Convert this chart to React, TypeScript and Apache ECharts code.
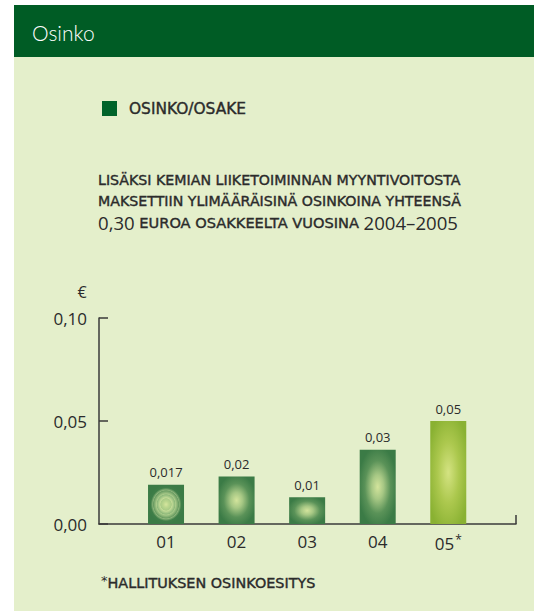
import React, { useEffect, useRef } from "react";
import * as echarts from "echarts";

const categories = ["01", "02", "03", "04", "05"];
const dividendPerShare = [0.019, 0.023, 0.013, 0.036, 0.05];
const valueLabels = ["0,017", "0,02", "0,01", "0,03", "0,05"];
const yMin = 0;
const yMax = 0.1;
const yStep = 0.05;
const titleText = "Osinko";
const legendText = "OSINKO/OSAKE";
const noteLines = [
  "LISÄKSI KEMIAN LIIKETOIMINNAN MYYNTIVOITOSTA",
  "MAKSETTIIN YLIMÄÄRÄISINÄ OSINKOINA YHTEENSÄ",
];
const noteLast = ["0,30", " EUROA OSAKKEELTA VUOSINA ", "2004–2005"];
const footnote = "HALLITUKSEN OSINKOESITYS";

const TEXT = "#2b2b2b";
const CAPS_FONT = "DejaVu Sans";
const NUM_FONT = "Open Sans";
const CAPS_SIZE = 14.2;
const CAPS = `${CAPS_SIZE}px '${CAPS_FONT}'`;
const EMBOLDEN = { stroke: TEXT, lineWidth: 0.4 };

const greenGrad = {
  type: "radial",
  x: 0.5,
  y: 0.5,
  r: 0.55,
  colorStops: [
    { offset: 0, color: "#D3E49C" },
    { offset: 0.3, color: "#A6C784" },
    { offset: 0.65, color: "#5A9258" },
    { offset: 1, color: "#3B7B46" },
  ],
};
const ringGrad = {
  type: "radial",
  x: 0.5,
  y: 0.5,
  r: 0.5,
  colorStops: [
    { offset: 0, color: "#D6E69E" },
    { offset: 0.15, color: "#BCD78E" },
    { offset: 0.3, color: "#A9CB86" },
    { offset: 0.33, color: "#C5DC98" },
    { offset: 0.5, color: "#8DB87A" },
    { offset: 0.53, color: "#AACB8A" },
    { offset: 0.7, color: "#6A9C62" },
    { offset: 0.73, color: "#8DB57A" },
    { offset: 0.85, color: "#3F7E48" },
    { offset: 1, color: "#3B7B46" },
  ],
};
const limeGrad = {
  type: "radial",
  x: 0.5,
  y: 0.5,
  r: 0.6,
  colorStops: [
    { offset: 0, color: "#D4E382" },
    { offset: 0.5, color: "#ACC84E" },
    { offset: 1, color: "#89B132" },
  ],
};
const barFills = [ringGrad, greenGrad, greenGrad, greenGrad, limeGrad];

export default function App() {
  const ref = useRef<HTMLDivElement>(null);
  useEffect(() => {
    if (!ref.current) return;
    const chart = echarts.init(ref.current, undefined, { renderer: "svg" });
    const xMin = -0.95;
    const xMax = 4.96;
    chart.setOption({
      animation: false,
      backgroundColor: "#ffffff",
      grid: { left: 99, top: 318, right: 18, bottom: 87, containLabel: false },
      xAxis: {
        type: "value",
        min: xMin,
        max: xMax,
        splitLine: { show: false },
        axisLine: { show: true, onZero: false, lineStyle: { color: "#3a3a3a", width: 1.5 } },
        axisTick: {
          show: true,
          inside: true,
          length: 9,
          customValues: [xMax],
          lineStyle: { color: "#3a3a3a", width: 1.5 },
        },
        axisLabel: {
          customValues: [0, 1, 2, 3, 4],
          margin: 9,
          color: TEXT,
          fontFamily: NUM_FONT,
          fontSize: 17,
          formatter: (v: number) => {
            const i = Math.round(v);
            return i === 4 ? categories[i] + "{sup|*}" : categories[i];
          },
          rich: {
            sup: { fontSize: 12, color: TEXT, fontFamily: NUM_FONT, padding: [0, 0, 9, 1] },
          },
        },
      },
      yAxis: {
        type: "value",
        min: yMin,
        max: yMax,
        interval: yStep,
        splitLine: { show: false },
        axisLine: { show: true, onZero: false, lineStyle: { color: "#3a3a3a", width: 1.5 } },
        axisTick: { show: true, inside: true, length: 9, lineStyle: { color: "#3a3a3a", width: 1.5 } },
        axisLabel: {
          margin: 12,
          color: TEXT,
          fontFamily: NUM_FONT,
          fontSize: 17,
          formatter: (v: number) => v.toFixed(2).replace(".", ","),
        },
      },
      series: [
        {
          type: "bar",
          barWidth: 36,
          data: dividendPerShare.map((v, i) => ({
            value: [i, v],
            itemStyle: { color: barFills[i] },
          })),
          label: {
            show: true,
            position: "top",
            distance: 6,
            color: TEXT,
            fontFamily: NUM_FONT,
            fontSize: 13,
            formatter: (p: any) => valueLabels[p.dataIndex],
          },
        },
      ],
      graphic: [
        { type: "rect", z: -10, shape: { x: 14, y: 57, width: 520, height: 554 }, style: { fill: "#E4EFCB" }, silent: true },
        { type: "rect", z: -10, shape: { x: 14, y: 5, width: 520, height: 52 }, style: { fill: "#005C25" }, silent: true },
        {
          type: "text",
          x: 32,
          y: 32,
          style: {
            text: titleText,
            fill: "#ffffff",
            font: "300 21px Lato",
            verticalAlign: "middle",
          },
        },
        { type: "rect", shape: { x: 102, y: 101, width: 15, height: 15 }, style: { fill: "#00632A" } },
        {
          type: "text",
          x: 129,
          y: 109,
          style: { text: legendText, fill: TEXT, font: `15.4px '${CAPS_FONT}'`, verticalAlign: "middle", ...EMBOLDEN },
        },
        {
          type: "text",
          x: 98,
          y: 180,
          style: { text: noteLines[0], fill: TEXT, font: CAPS, verticalAlign: "middle", ...EMBOLDEN },
        },
        {
          type: "text",
          x: 98,
          y: 201,
          style: { text: noteLines[1], fill: TEXT, font: CAPS, verticalAlign: "middle", ...EMBOLDEN },
        },
        {
          type: "text",
          x: 98,
          y: 222,
          style: {
            text: `{big|${noteLast[0]}}{cap|${noteLast[1]}}{big|${noteLast[2]}}`,
            verticalAlign: "middle",
            rich: {
              big: { fontSize: 18.6, fontFamily: NUM_FONT, fill: TEXT },
              cap: { fontSize: 14.6, fontFamily: CAPS_FONT, fill: TEXT, stroke: TEXT, lineWidth: 0.4 },
            },
          },
        },
        {
          type: "text",
          x: 82,
          y: 292,
          style: { text: "€", fill: TEXT, font: `16px '${NUM_FONT}'`, align: "center", verticalAlign: "middle" },
        },
        {
          type: "text",
          x: 101,
          y: 583,
          style: {
            text: `{sup|*}{cap|${footnote}}`,
            verticalAlign: "middle",
            rich: {
              sup: { fontSize: 13, fontFamily: CAPS_FONT, fill: TEXT, padding: [0, 0, 5, 0] },
              cap: { fontSize: 14.4, fontFamily: CAPS_FONT, fill: TEXT, stroke: TEXT, lineWidth: 0.4 },
            },
          },
        },
      ],
    });
    return () => chart.dispose();
  }, []);
  return (
    <div
      ref={ref}
      style={{ position: "fixed", left: 0, top: 0, width: 534, height: 611 }}
    />
  );
}
